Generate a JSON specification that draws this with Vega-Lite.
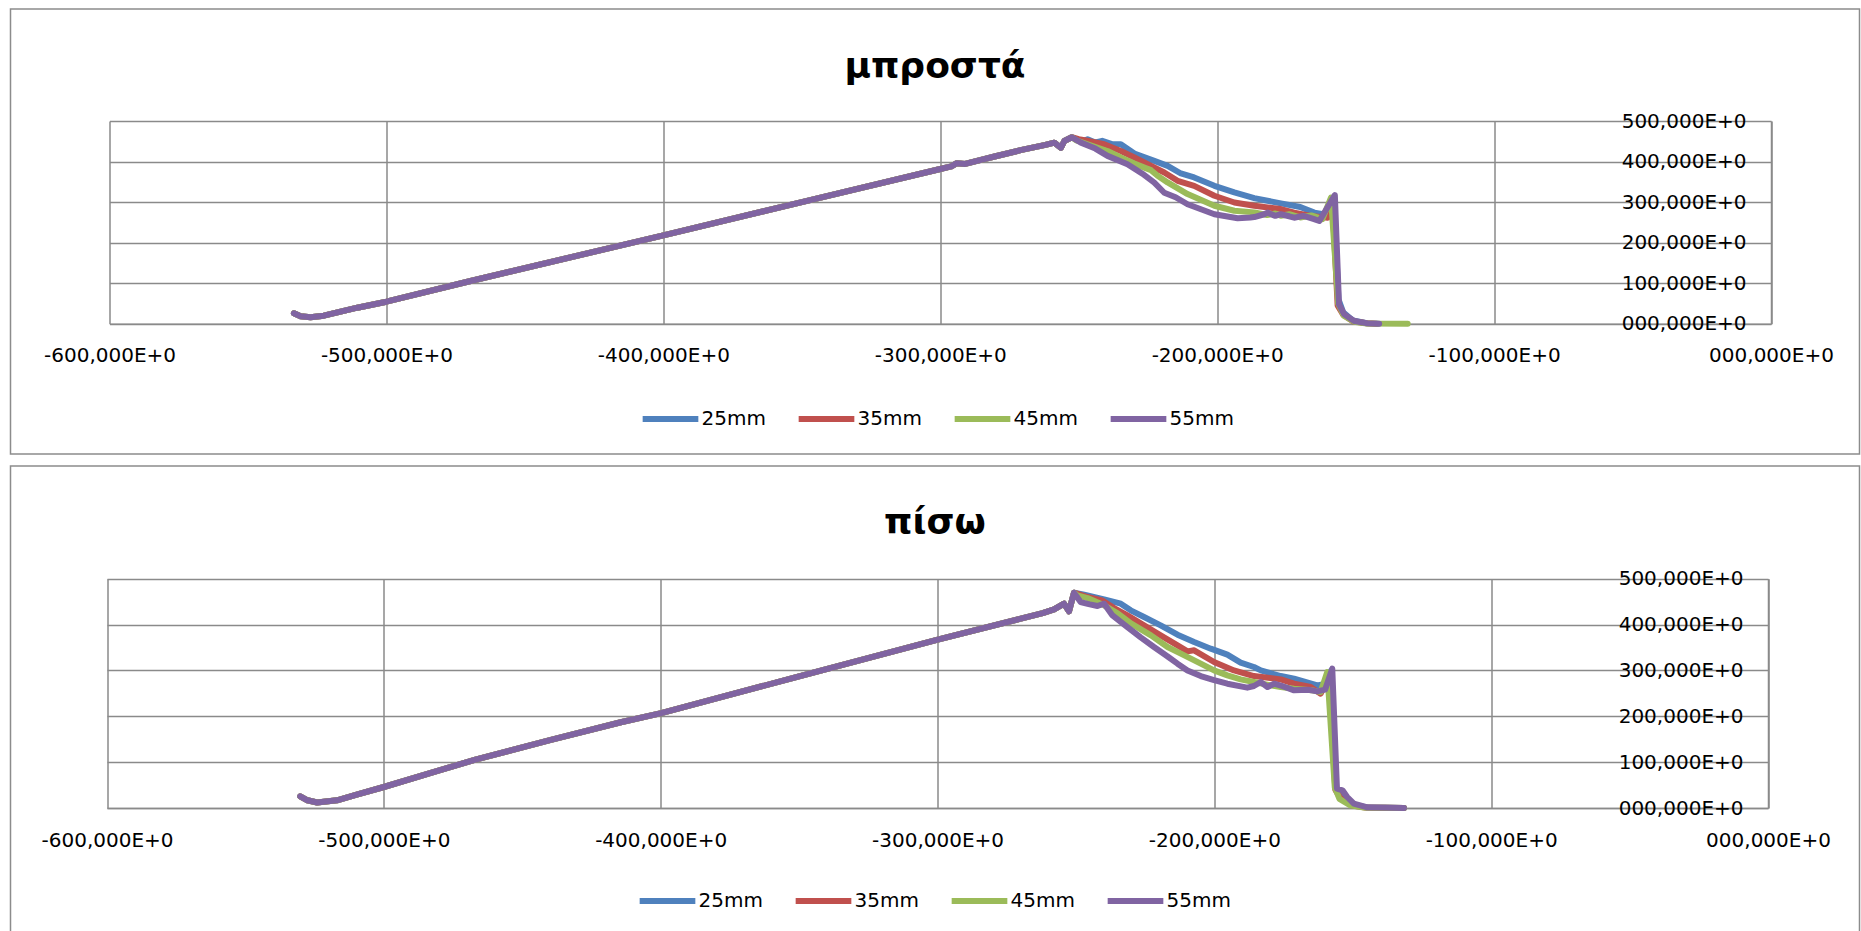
{
  "$schema": "https://vega.github.io/schema/vega-lite/v6.json",
  "background": "white",
  "padding": {"left": 9.5, "top": 8, "right": 0, "bottom": 0},
  "spacing": 10,
  "resolve": {"scale": {"color": "independent"}, "legend": {"color": "independent"}},
  "config": {
    "view": {"stroke": "#8c8c8c", "strokeWidth": 1.5, "fill": "white"},
    "axis": {
      "labelFont": "DejaVu Sans",
      "labelFontSize": 20,
      "labelColor": "#000000",
      "gridColor": "#8a8a8a",
      "gridWidth": 1.5,
      "domainColor": "#8a8a8a",
      "domainWidth": 1.5,
      "ticks": false,
      "tickSize": 0,
      "title": null,
      "labelFlush": false,
      "labelOverlap": false,
      "labelBound": false
    },
    "title": {
      "font": "DejaVu Sans",
      "fontSize": 36,
      "fontWeight": "bold",
      "color": "#000000",
      "anchor": "middle",
      "baseline": "alphabetic"
    },
    "legend": {
      "orient": "none",
      "direction": "horizontal",
      "title": null,
      "symbolType": "stroke",
      "symbolSize": 3100,
      "symbolStrokeWidth": 6,
      "labelFont": "DejaVu Sans",
      "labelFontSize": 20,
      "labelColor": "#000000",
      "labelOffset": 0,
      "columnPadding": 20
    }
  },
  "datasets": {
    "front": [
      {"series": "25mm", "x": -533.4, "y": 25.7}, {"series": "25mm", "x": -531, "y": 18.3}, {"series": "25mm", "x": -527.4, "y": 15.8}, {"series": "25mm", "x": -522.6, "y": 19.7}, {"series": "25mm", "x": -517.7, "y": 28.1}, {"series": "25mm", "x": -510.5, "y": 39.5}, {"series": "25mm", "x": -500, "y": 54.3}, {"series": "25mm", "x": -469.6, "y": 105.4}, {"series": "25mm", "x": -400, "y": 218}, {"series": "25mm", "x": -350, "y": 300}, {"series": "25mm", "x": -300, "y": 381.5}, {"series": "25mm", "x": -296, "y": 388}, {"series": "25mm", "x": -294, "y": 396}, {"series": "25mm", "x": -291, "y": 394}, {"series": "25mm", "x": -286, "y": 403}, {"series": "25mm", "x": -280, "y": 413}, {"series": "25mm", "x": -271, "y": 428}, {"series": "25mm", "x": -262, "y": 441}, {"series": "25mm", "x": -258.8, "y": 446.6}, {"series": "25mm", "x": -256.4, "y": 434}, {"series": "25mm", "x": -255.2, "y": 450.8}, {"series": "25mm", "x": -252.5, "y": 460},
      {"series": "25mm", "x": -249, "y": 449}, {"series": "25mm", "x": -246.8, "y": 454.9}, {"series": "25mm", "x": -244, "y": 447}, {"series": "25mm", "x": -241.5, "y": 451}, {"series": "25mm", "x": -238, "y": 443}, {"series": "25mm", "x": -234.8, "y": 442.6}, {"series": "25mm", "x": -229.9, "y": 419.7}, {"series": "25mm", "x": -222.7, "y": 401.6}, {"series": "25mm", "x": -217.9, "y": 389.3}, {"series": "25mm", "x": -213.1, "y": 370.5}, {"series": "25mm", "x": -208.3, "y": 360.7}, {"series": "25mm", "x": -201, "y": 340.2}, {"series": "25mm", "x": -193.8, "y": 323.8}, {"series": "25mm", "x": -186.6, "y": 309.8}, {"series": "25mm", "x": -177, "y": 296.7}, {"series": "25mm", "x": -170, "y": 288}, {"series": "25mm", "x": -164.9, "y": 274}, {"series": "25mm", "x": -160, "y": 268}, {"series": "25mm", "x": -157.8, "y": 300}, {"series": "25mm", "x": -156.2, "y": 60}, {"series": "25mm", "x": -154.5, "y": 28}, {"series": "25mm", "x": -151, "y": 8}, {"series": "25mm", "x": -146, "y": 1}, {"series": "25mm", "x": -142, "y": 0},

      {"series": "35mm", "x": -533.4, "y": 25.7}, {"series": "35mm", "x": -531, "y": 18.3}, {"series": "35mm", "x": -527.4, "y": 15.8}, {"series": "35mm", "x": -522.6, "y": 19.7}, {"series": "35mm", "x": -517.7, "y": 28.1}, {"series": "35mm", "x": -510.5, "y": 39.5}, {"series": "35mm", "x": -500, "y": 54.3}, {"series": "35mm", "x": -469.6, "y": 105.4}, {"series": "35mm", "x": -400, "y": 218}, {"series": "35mm", "x": -350, "y": 300}, {"series": "35mm", "x": -300, "y": 381.5}, {"series": "35mm", "x": -296, "y": 388}, {"series": "35mm", "x": -294, "y": 396}, {"series": "35mm", "x": -291, "y": 394}, {"series": "35mm", "x": -286, "y": 403}, {"series": "35mm", "x": -280, "y": 413}, {"series": "35mm", "x": -271, "y": 428}, {"series": "35mm", "x": -262, "y": 441}, {"series": "35mm", "x": -258.8, "y": 446.6}, {"series": "35mm", "x": -256.4, "y": 434}, {"series": "35mm", "x": -255.2, "y": 450.8}, {"series": "35mm", "x": -252.5, "y": 460},
      {"series": "35mm", "x": -250, "y": 455}, {"series": "35mm", "x": -247.9, "y": 452.5}, {"series": "35mm", "x": -240.8, "y": 442.6}, {"series": "35mm", "x": -234.8, "y": 426}, {"series": "35mm", "x": -229.9, "y": 410}, {"series": "35mm", "x": -225.1, "y": 393.4}, {"series": "35mm", "x": -219.1, "y": 373}, {"series": "35mm", "x": -214.3, "y": 352.5}, {"series": "35mm", "x": -208.3, "y": 340}, {"series": "35mm", "x": -201, "y": 315.6}, {"series": "35mm", "x": -193.8, "y": 299}, {"series": "35mm", "x": -186.6, "y": 291}, {"series": "35mm", "x": -177, "y": 282.8}, {"series": "35mm", "x": -172.2, "y": 274}, {"series": "35mm", "x": -166.1, "y": 265.6}, {"series": "35mm", "x": -160.1, "y": 261.5}, {"series": "35mm", "x": -158.3, "y": 292}, {"series": "35mm", "x": -156.5, "y": 45}, {"series": "35mm", "x": -154.5, "y": 22}, {"series": "35mm", "x": -151, "y": 6}, {"series": "35mm", "x": -146, "y": 1}, {"series": "35mm", "x": -142.5, "y": 0},

      {"series": "45mm", "x": -533.4, "y": 25.7}, {"series": "45mm", "x": -531, "y": 18.3}, {"series": "45mm", "x": -527.4, "y": 15.8}, {"series": "45mm", "x": -522.6, "y": 19.7}, {"series": "45mm", "x": -517.7, "y": 28.1}, {"series": "45mm", "x": -510.5, "y": 39.5}, {"series": "45mm", "x": -500, "y": 54.3}, {"series": "45mm", "x": -469.6, "y": 105.4}, {"series": "45mm", "x": -400, "y": 218}, {"series": "45mm", "x": -350, "y": 300}, {"series": "45mm", "x": -300, "y": 381.5}, {"series": "45mm", "x": -296, "y": 388}, {"series": "45mm", "x": -294, "y": 396}, {"series": "45mm", "x": -291, "y": 394}, {"series": "45mm", "x": -286, "y": 403}, {"series": "45mm", "x": -280, "y": 413}, {"series": "45mm", "x": -271, "y": 428}, {"series": "45mm", "x": -262, "y": 441}, {"series": "45mm", "x": -258.8, "y": 446.6}, {"series": "45mm", "x": -256.4, "y": 434}, {"series": "45mm", "x": -255.2, "y": 450.8}, {"series": "45mm", "x": -252.5, "y": 460},
      {"series": "45mm", "x": -250.8, "y": 452}, {"series": "45mm", "x": -246.8, "y": 442.6}, {"series": "45mm", "x": -239.6, "y": 426}, {"series": "45mm", "x": -234.8, "y": 410}, {"series": "45mm", "x": -229.9, "y": 395}, {"series": "45mm", "x": -226.3, "y": 385}, {"series": "45mm", "x": -223.9, "y": 378.7}, {"series": "45mm", "x": -221.5, "y": 364.8}, {"series": "45mm", "x": -217.9, "y": 348.4}, {"series": "45mm", "x": -210.7, "y": 319.7}, {"series": "45mm", "x": -201, "y": 291}, {"series": "45mm", "x": -193.8, "y": 278.7}, {"series": "45mm", "x": -186.6, "y": 274.6}, {"series": "45mm", "x": -182, "y": 268}, {"series": "45mm", "x": -179, "y": 272}, {"series": "45mm", "x": -177, "y": 266.4}, {"series": "45mm", "x": -174, "y": 270}, {"series": "45mm", "x": -170, "y": 262}, {"series": "45mm", "x": -166, "y": 267}, {"series": "45mm", "x": -162, "y": 258}, {"series": "45mm", "x": -158.9, "y": 311}, {"series": "45mm", "x": -156.3, "y": 50}, {"series": "45mm", "x": -154.3, "y": 20}, {"series": "45mm", "x": -150.5, "y": 5}, {"series": "45mm", "x": -146, "y": 0.5}, {"series": "45mm", "x": -131.2, "y": 0},

      {"series": "55mm", "x": -533.4, "y": 25.7}, {"series": "55mm", "x": -531, "y": 18.3}, {"series": "55mm", "x": -527.4, "y": 15.8}, {"series": "55mm", "x": -522.6, "y": 19.7}, {"series": "55mm", "x": -517.7, "y": 28.1}, {"series": "55mm", "x": -510.5, "y": 39.5}, {"series": "55mm", "x": -500, "y": 54.3}, {"series": "55mm", "x": -469.6, "y": 105.4}, {"series": "55mm", "x": -400, "y": 218}, {"series": "55mm", "x": -350, "y": 300}, {"series": "55mm", "x": -300, "y": 381.5}, {"series": "55mm", "x": -296, "y": 388}, {"series": "55mm", "x": -294, "y": 396}, {"series": "55mm", "x": -291, "y": 394}, {"series": "55mm", "x": -286, "y": 403}, {"series": "55mm", "x": -280, "y": 413}, {"series": "55mm", "x": -271, "y": 428}, {"series": "55mm", "x": -262, "y": 441}, {"series": "55mm", "x": -258.8, "y": 446.6}, {"series": "55mm", "x": -256.4, "y": 434}, {"series": "55mm", "x": -255.2, "y": 450.8}, {"series": "55mm", "x": -252.5, "y": 460},
      {"series": "55mm", "x": -249.2, "y": 446.6}, {"series": "55mm", "x": -244, "y": 432}, {"series": "55mm", "x": -239.6, "y": 414}, {"series": "55mm", "x": -232.4, "y": 393.4}, {"series": "55mm", "x": -227, "y": 370}, {"series": "55mm", "x": -222.7, "y": 348}, {"series": "55mm", "x": -219.1, "y": 323}, {"series": "55mm", "x": -215, "y": 312}, {"series": "55mm", "x": -210.7, "y": 294.6}, {"series": "55mm", "x": -201, "y": 270}, {"series": "55mm", "x": -192.6, "y": 260}, {"series": "55mm", "x": -188, "y": 262}, {"series": "55mm", "x": -186.6, "y": 263}, {"series": "55mm", "x": -183, "y": 270}, {"series": "55mm", "x": -181.8, "y": 274}, {"series": "55mm", "x": -179, "y": 266}, {"series": "55mm", "x": -177, "y": 270}, {"series": "55mm", "x": -174, "y": 265}, {"series": "55mm", "x": -172.2, "y": 261.5}, {"series": "55mm", "x": -169, "y": 266}, {"series": "55mm", "x": -167.3, "y": 263}, {"series": "55mm", "x": -165, "y": 258}, {"series": "55mm", "x": -163.1, "y": 253.3}, {"series": "55mm", "x": -157.5, "y": 317.4}, {"series": "55mm", "x": -156, "y": 47.7}, {"series": "55mm", "x": -154.1, "y": 23}, {"series": "55mm", "x": -150.5, "y": 6.6}, {"series": "55mm", "x": -145.6, "y": 0.8}, {"series": "55mm", "x": -141.5, "y": 0}
    ],
    "back": [
      {"series": "25mm", "x": -530.2, "y": 25.5}, {"series": "25mm", "x": -527.6, "y": 16.8}, {"series": "25mm", "x": -524.1, "y": 12}, {"series": "25mm", "x": -516.9, "y": 16.8}, {"series": "25mm", "x": -509.8, "y": 29}, {"series": "25mm", "x": -500, "y": 45.8}, {"series": "25mm", "x": -481.2, "y": 80}, {"series": "25mm", "x": -466.9, "y": 105.4}, {"series": "25mm", "x": -440, "y": 148}, {"series": "25mm", "x": -414.4, "y": 187}, {"series": "25mm", "x": -399.8, "y": 207}, {"series": "25mm", "x": -350, "y": 287}, {"series": "25mm", "x": -299.9, "y": 367}, {"series": "25mm", "x": -269.9, "y": 413}, {"series": "25mm", "x": -262, "y": 425}, {"series": "25mm", "x": -257.9, "y": 433}, {"series": "25mm", "x": -254.3, "y": 445.5}, {"series": "25mm", "x": -252.5, "y": 428.8}, {"series": "25mm", "x": -250.7, "y": 469.5},
      {"series": "25mm", "x": -247, "y": 465}, {"series": "25mm", "x": -239.8, "y": 455}, {"series": "25mm", "x": -233.8, "y": 445.5}, {"series": "25mm", "x": -230.2, "y": 431}, {"series": "25mm", "x": -225.4, "y": 416.4}, {"series": "25mm", "x": -219.4, "y": 398.3}, {"series": "25mm", "x": -213.3, "y": 378}, {"series": "25mm", "x": -207.3, "y": 362}, {"series": "25mm", "x": -201.3, "y": 347.4}, {"series": "25mm", "x": -195.3, "y": 334.3}, {"series": "25mm", "x": -190.5, "y": 317}, {"series": "25mm", "x": -185.7, "y": 307.4}, {"series": "25mm", "x": -183.2, "y": 300}, {"series": "25mm", "x": -176, "y": 287.8}, {"series": "25mm", "x": -171.2, "y": 282}, {"series": "25mm", "x": -162.8, "y": 267.4}, {"series": "25mm", "x": -160.5, "y": 270}, {"series": "25mm", "x": -157.8, "y": 300}, {"series": "25mm", "x": -156, "y": 45}, {"series": "25mm", "x": -154, "y": 25}, {"series": "25mm", "x": -150, "y": 8}, {"series": "25mm", "x": -145, "y": 1}, {"series": "25mm", "x": -131.5, "y": 0},

      {"series": "35mm", "x": -530.2, "y": 25.5}, {"series": "35mm", "x": -527.6, "y": 16.8}, {"series": "35mm", "x": -524.1, "y": 12}, {"series": "35mm", "x": -516.9, "y": 16.8}, {"series": "35mm", "x": -509.8, "y": 29}, {"series": "35mm", "x": -500, "y": 45.8}, {"series": "35mm", "x": -481.2, "y": 80}, {"series": "35mm", "x": -466.9, "y": 105.4}, {"series": "35mm", "x": -440, "y": 148}, {"series": "35mm", "x": -414.4, "y": 187}, {"series": "35mm", "x": -399.8, "y": 207}, {"series": "35mm", "x": -350, "y": 287}, {"series": "35mm", "x": -299.9, "y": 367}, {"series": "35mm", "x": -269.9, "y": 413}, {"series": "35mm", "x": -262, "y": 425}, {"series": "35mm", "x": -257.9, "y": 433}, {"series": "35mm", "x": -254.3, "y": 445.5}, {"series": "35mm", "x": -252.5, "y": 428.8}, {"series": "35mm", "x": -250.7, "y": 469.5},
      {"series": "35mm", "x": -245.8, "y": 460}, {"series": "35mm", "x": -240.6, "y": 452.8}, {"series": "35mm", "x": -236.2, "y": 436}, {"series": "35mm", "x": -231.4, "y": 420}, {"series": "35mm", "x": -225.4, "y": 398.3}, {"series": "35mm", "x": -219.4, "y": 376.5}, {"series": "35mm", "x": -213.3, "y": 354.7}, {"series": "35mm", "x": -209.7, "y": 341.6}, {"series": "35mm", "x": -207.3, "y": 343.8}, {"series": "35mm", "x": -200.1, "y": 318.3}, {"series": "35mm", "x": -192.9, "y": 300}, {"series": "35mm", "x": -185.7, "y": 287.8}, {"series": "35mm", "x": -176, "y": 280.5}, {"series": "35mm", "x": -171.2, "y": 271}, {"series": "35mm", "x": -165.2, "y": 263.8}, {"series": "35mm", "x": -161.6, "y": 249.3}, {"series": "35mm", "x": -158.5, "y": 288}, {"series": "35mm", "x": -156.3, "y": 40}, {"series": "35mm", "x": -154.5, "y": 22}, {"series": "35mm", "x": -150.5, "y": 6}, {"series": "35mm", "x": -145.5, "y": 1}, {"series": "35mm", "x": -131.5, "y": 0},

      {"series": "45mm", "x": -530.2, "y": 25.5}, {"series": "45mm", "x": -527.6, "y": 16.8}, {"series": "45mm", "x": -524.1, "y": 12}, {"series": "45mm", "x": -516.9, "y": 16.8}, {"series": "45mm", "x": -509.8, "y": 29}, {"series": "45mm", "x": -500, "y": 45.8}, {"series": "45mm", "x": -481.2, "y": 80}, {"series": "45mm", "x": -466.9, "y": 105.4}, {"series": "45mm", "x": -440, "y": 148}, {"series": "45mm", "x": -414.4, "y": 187}, {"series": "45mm", "x": -399.8, "y": 207}, {"series": "45mm", "x": -350, "y": 287}, {"series": "45mm", "x": -299.9, "y": 367}, {"series": "45mm", "x": -269.9, "y": 413}, {"series": "45mm", "x": -262, "y": 425}, {"series": "45mm", "x": -257.9, "y": 433}, {"series": "45mm", "x": -254.3, "y": 445.5}, {"series": "45mm", "x": -252.5, "y": 428.8}, {"series": "45mm", "x": -250.7, "y": 469.5},
      {"series": "45mm", "x": -249.5, "y": 463.7}, {"series": "45mm", "x": -245.8, "y": 457.8}, {"series": "45mm", "x": -239.8, "y": 441.9}, {"series": "45mm", "x": -234.8, "y": 423.7}, {"series": "45mm", "x": -230, "y": 401.9}, {"series": "45mm", "x": -222.9, "y": 376.5}, {"series": "45mm", "x": -216.9, "y": 351}, {"series": "45mm", "x": -212.1, "y": 336.5}, {"series": "45mm", "x": -204.9, "y": 314.7}, {"series": "45mm", "x": -200.1, "y": 300}, {"series": "45mm", "x": -195.3, "y": 289.2}, {"series": "45mm", "x": -190.5, "y": 280.5}, {"series": "45mm", "x": -185.7, "y": 274.7}, {"series": "45mm", "x": -180, "y": 268}, {"series": "45mm", "x": -176, "y": 263.8}, {"series": "45mm", "x": -171.2, "y": 260}, {"series": "45mm", "x": -165, "y": 257}, {"series": "45mm", "x": -161.6, "y": 253}, {"series": "45mm", "x": -159.2, "y": 296.6}, {"series": "45mm", "x": -156.5, "y": 45}, {"series": "45mm", "x": -154.8, "y": 20}, {"series": "45mm", "x": -151, "y": 6}, {"series": "45mm", "x": -146, "y": 1}, {"series": "45mm", "x": -131.5, "y": 0},

      {"series": "55mm", "x": -530.2, "y": 25.5}, {"series": "55mm", "x": -527.6, "y": 16.8}, {"series": "55mm", "x": -524.1, "y": 12}, {"series": "55mm", "x": -516.9, "y": 16.8}, {"series": "55mm", "x": -509.8, "y": 29}, {"series": "55mm", "x": -500, "y": 45.8}, {"series": "55mm", "x": -481.2, "y": 80}, {"series": "55mm", "x": -466.9, "y": 105.4}, {"series": "55mm", "x": -440, "y": 148}, {"series": "55mm", "x": -414.4, "y": 187}, {"series": "55mm", "x": -399.8, "y": 207}, {"series": "55mm", "x": -350, "y": 287}, {"series": "55mm", "x": -299.9, "y": 367}, {"series": "55mm", "x": -269.9, "y": 413}, {"series": "55mm", "x": -262, "y": 425}, {"series": "55mm", "x": -257.9, "y": 433}, {"series": "55mm", "x": -254.3, "y": 445.5}, {"series": "55mm", "x": -252.5, "y": 428.8}, {"series": "55mm", "x": -250.7, "y": 469.5},
      {"series": "55mm", "x": -248.3, "y": 449}, {"series": "55mm", "x": -245, "y": 444}, {"series": "55mm", "x": -242.2, "y": 440.4}, {"series": "55mm", "x": -239.8, "y": 445.5}, {"series": "55mm", "x": -236.8, "y": 420}, {"series": "55mm", "x": -231.4, "y": 394.6}, {"series": "55mm", "x": -226.6, "y": 372}, {"series": "55mm", "x": -221.8, "y": 351}, {"series": "55mm", "x": -217, "y": 331}, {"series": "55mm", "x": -213.3, "y": 314.7}, {"series": "55mm", "x": -209.7, "y": 300}, {"series": "55mm", "x": -204.9, "y": 287.8}, {"series": "55mm", "x": -200.1, "y": 279}, {"series": "55mm", "x": -195.3, "y": 271}, {"series": "55mm", "x": -188.1, "y": 262.4}, {"series": "55mm", "x": -185.7, "y": 266}, {"series": "55mm", "x": -183.2, "y": 274.7}, {"series": "55mm", "x": -180.8, "y": 263.8}, {"series": "55mm", "x": -178.4, "y": 271}, {"series": "55mm", "x": -176, "y": 267}, {"series": "55mm", "x": -171.2, "y": 256.5}, {"series": "55mm", "x": -166, "y": 258}, {"series": "55mm", "x": -162.8, "y": 254.4}, {"series": "55mm", "x": -160, "y": 258}, {"series": "55mm", "x": -157.4, "y": 303.8}, {"series": "55mm", "x": -155.7, "y": 42}, {"series": "55mm", "x": -153.7, "y": 38.5}, {"series": "55mm", "x": -152, "y": 24}, {"series": "55mm", "x": -149.6, "y": 9.4}, {"series": "55mm", "x": -144.7, "y": 1.5}, {"series": "55mm", "x": -131.5, "y": 0}
    ]
  },
  "vconcat": [
    {
      "title": {"text": "μπροστά", "offset": -77},
      "width": 1849,
      "height": 445,
      "data": {"name": "front"},
      "resolve": {"axis": {"x": "independent", "y": "independent"}},
      "layer": [
        {
          "mark": {"type": "line", "opacity": 0},
          "encoding": {
            "x": {
              "field": "x", "type": "quantitative",
              "scale": {"domain": [-600, 0], "nice": false, "zero": false, "range": [99, 1760.5]},
              "axis": {"orient": "top", "values": [-600, -500, -400, -300, -200, -100, 0], "labels": false, "domain": false, "grid": true}
            },
            "y": {"field": "y", "type": "quantitative", "axis": null}
          }
        },
        {
          "mark": {"type": "line", "strokeWidth": 6, "strokeCap": "round", "strokeJoin": "round"},
          "encoding": {
            "x": {
              "field": "x", "type": "quantitative",
              "axis": {"orient": "bottom", "offset": -130.3, "grid": false, "values": [-600, -500, -400, -300, -200, -100, 0], "labelPadding": 22, "labelExpr": "(datum.value < 0 ? '-' : '') + format(abs(datum.value), '03d') + ',000E+0'"}
            },
            "y": {
              "field": "y", "type": "quantitative",
              "scale": {"domain": [0, 500], "nice": false, "range": [314.7, 112]},
              "axis": {"orient": "left", "offset": -1760.5, "grid": true, "values": [0, 100, 200, 300, 400, 500], "labelPadding": 25, "labelExpr": "format(datum.value, '03d') + ',000E+0'"}
            },
            "color": {
              "field": "series", "type": "nominal",
              "scale": {"domain": ["25mm", "35mm", "45mm", "55mm"], "range": ["#4f81bd", "#c0504d", "#9bbb59", "#8064a2"]},
              "legend": {"legendX": 629, "legendY": 379}
            }
          }
        }
      ]
    },
    {
      "title": {"text": "πίσω", "offset": -76},
      "width": 1849,
      "height": 468,
      "data": {"name": "back"},
      "resolve": {"axis": {"x": "independent", "y": "independent"}},
      "layer": [
        {
          "mark": {"type": "line", "opacity": 0},
          "encoding": {
            "x": {
              "field": "x", "type": "quantitative",
              "scale": {"domain": [-600, 0], "nice": false, "zero": false, "range": [96.5, 1757.5]},
              "axis": {"orient": "top", "values": [-600, -500, -400, -300, -200, -100, 0], "labels": false, "domain": false, "grid": true}
            },
            "y": {"field": "y", "type": "quantitative", "axis": null}
          }
        },
        {
          "mark": {"type": "line", "strokeWidth": 6, "strokeCap": "round", "strokeJoin": "round"},
          "encoding": {
            "x": {
              "field": "x", "type": "quantitative",
              "axis": {"orient": "bottom", "offset": -126, "grid": false, "values": [-600, -500, -400, -300, -200, -100, 0], "labelPadding": 22, "labelExpr": "(datum.value < 0 ? '-' : '') + format(abs(datum.value), '03d') + ',000E+0'"}
            },
            "y": {
              "field": "y", "type": "quantitative",
              "scale": {"domain": [0, 500], "nice": false, "range": [342, 112.7]},
              "axis": {"orient": "left", "offset": -1757.5, "grid": true, "values": [0, 100, 200, 300, 400, 500], "labelPadding": 25, "labelExpr": "format(datum.value, '03d') + ',000E+0'"}
            },
            "color": {
              "field": "series", "type": "nominal",
              "scale": {"domain": ["25mm", "35mm", "45mm", "55mm"], "range": ["#4f81bd", "#c0504d", "#9bbb59", "#8064a2"]},
              "legend": {"legendX": 626, "legendY": 404}
            }
          }
        }
      ]
    }
  ]
}
